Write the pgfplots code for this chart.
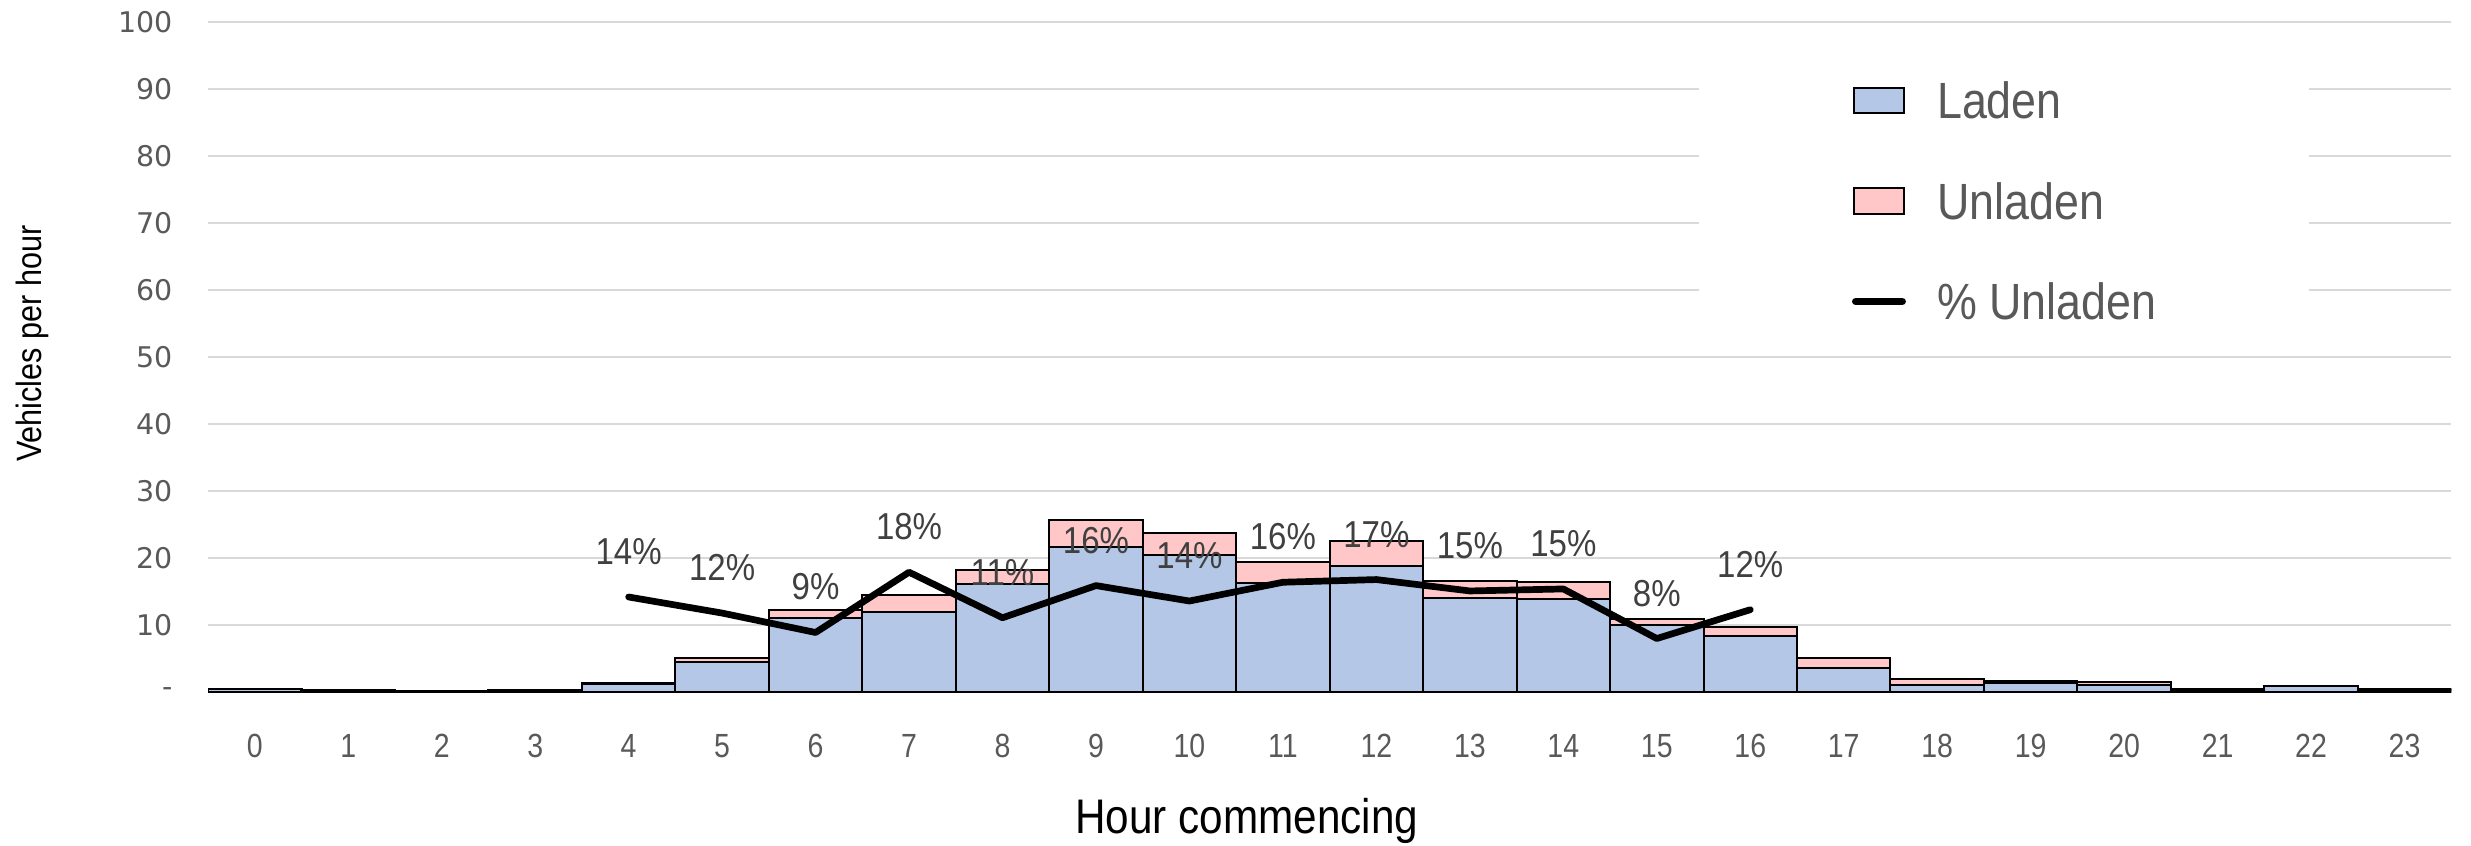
\documentclass[border=0pt]{standalone}
\usepackage{pgfplots}
\usepackage{pgfplotstable}
\pgfplotsset{compat=1.18}
\usepackage{fontspec}
\setmainfont{Liberation Sans}
\newfontfamily\narrowfont[FakeStretch=0.87]{Liberation Sans}
\newfontfamily\lblfont[FakeStretch=0.88]{Liberation Sans}
\newfontfamily\xtfont[FakeStretch=0.85]{Liberation Sans}
\newfontfamily\tickfont{DejaVu Sans}
\definecolor{laden}{HTML}{B4C7E7}
\definecolor{unladen}{HTML}{FFC7C7}
\definecolor{txtgray}{HTML}{595959}
\definecolor{lblgray}{HTML}{404040}
\definecolor{gridgray}{HTML}{D9D9D9}
\definecolor{axisgray}{HTML}{BFBFBF}

\pgfplotstableread{
hour laden unladen
0 0.45 0.05
1 0.20 0.15
2 0.10 0.00
3 0.20 0.10
4 1.15 0.20
5 4.50 0.60
6 11.10 1.10
7 11.90 2.60
8 16.20 2.00
9 21.60 4.10
10 20.50 3.30
11 16.30 3.10
12 18.80 3.80
13 14.10 2.50
14 13.90 2.50
15 10.00 0.95
16 8.40 1.25
17 3.60 1.45
18 1.00 0.95
19 1.30 0.30
20 1.10 0.35
21 0.35 0.15
22 0.85 0.10
23 0.35 0.15
}\bardata

\pgfplotstableread{
hour pct label
4 14.2 14\%
5 11.8 12\%
6 8.9 9\%
7 17.9 18\%
8 11.1 11\%
9 15.9 16\%
10 13.6 14\%
11 16.4 16\%
12 16.8 17\%
13 15.1 15\%
14 15.4 15\%
15 8.0 8\%
16 12.3 12\%
}\pctdata

\begin{document}
\begin{tikzpicture}
\useasboundingbox (-62.1pt,-45.7pt) rectangle (675.5pt,206.6pt);
\begin{axis}[
  scale only axis, width=669.6pt, height=200pt,
  ybar stacked, bar width=1,
  xmin=-0.5, xmax=23.5, ymin=0, ymax=100,
  xtick={0,1,...,23},
  xticklabels={0,1,2,3,4,5,6,7,8,9,10,11,12,13,14,15,16,17,18,19,20,21,22,23},
  ytick={0,10,...,100},
  yticklabels={-,10,20,30,40,50,60,70,80,90,100},
  major tick length=0pt,
  axis lines*=left,
  x axis line style={draw=axisgray, line width=0.8pt},
  y axis line style={draw=none},
  ymajorgrids, grid style={draw=gridgray, line width=0.6pt},
  xticklabel style={font=\xtfont\fontsize{10}{11}\selectfont, text=txtgray, anchor=center, yshift=-16pt},
  yticklabel style={font=\tickfont\fontsize{8.5}{9}\selectfont, text=txtgray, anchor=east, inner sep=0pt, xshift=-10.4pt},
  xlabel={Hour commencing},
  ylabel={Vehicles per hour},
  every axis x label/.style={at={(axis description cs:0.463,-0.1925)}, anchor=center, font=\narrowfont\fontsize{14.5}{15}\selectfont},
  every axis y label/.style={at={(axis description cs:-0.0784,0.52)}, rotate=90, anchor=center, font=\narrowfont\fontsize{10.5}{11}\selectfont},
  legend cell align=left,
  legend style={at={(0.6643,0.958)}, anchor=north west, fill=white, draw=none,
    inner xsep=45.7pt, inner ysep=9.35pt, row sep=19.1pt,
    font=\lblfont\fontsize{15.2}{16}\selectfont, text=txtgray,
    nodes={inner sep=0pt, text height=10.9pt, text depth=0pt, anchor=base west},
    /tikz/every odd column/.append style={column sep=9.3pt}},
]
\addplot[fill=laden, draw=black, line width=0.6pt,
  legend image code/.code={\draw[fill=laden, draw=black, line width=0.6pt] (0pt,1.65pt) rectangle (14.9pt,9.25pt);}]
  table[x=hour, y=laden] {\bardata};
\addlegendentry{Laden}
\addplot[fill=unladen, draw=black, line width=0.6pt,
  legend image code/.code={\draw[fill=unladen, draw=black, line width=0.6pt] (0pt,1.65pt) rectangle (14.9pt,9.25pt);}]
  table[x=hour, y=unladen] {\bardata};
\addlegendentry{Unladen}
\addlegendimage{legend image code/.code={\draw[draw=black, line width=2.2pt, line cap=round] (0.5pt,5.45pt) -- (14.4pt,5.45pt);}}
\addlegendentry{\% Unladen}
\end{axis}
\begin{axis}[
  scale only axis, width=669.6pt, height=200pt,
  xmin=-0.5, xmax=23.5, ymin=0, ymax=100,
  axis lines=none, ticks=none,
]
\addplot[draw=black, line width=2pt, line join=round, line cap=round,
  nodes near coords, point meta=explicit symbolic,
  every node near coord/.style={font=\lblfont\fontsize{11.2}{12}\selectfont, text=lblgray, inner sep=0pt, anchor=south, yshift=8.6pt}]
  table[x=hour, y=pct, meta=label] {\pctdata};
\end{axis}
\end{tikzpicture}
\end{document}
